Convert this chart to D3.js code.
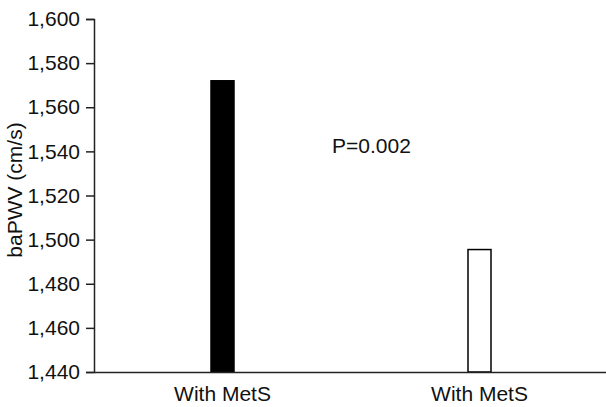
<!DOCTYPE html>
<html><head><meta charset="utf-8">
<script src="https://cdn.jsdelivr.net/npm/d3@7"></script>
<style>body{margin:0;background:#fff}text{font-family:"Liberation Sans",Arial,sans-serif;fill:#111}</style>
</head><body><svg id="c" width="606" height="407"></svg>
<script>
const categories = ["With MetS", "With MetS "];
const values = [1572, 1495.5];
const fills = ["#000", "#fff"];
const yTicks = [1440, 1460, 1480, 1500, 1520, 1540, 1560, 1580, 1600];
const yTitle = "baPWV (cm/s)";
const pText = "P=0.002";

const svg = d3.select("#c");
const m = {l: 94, t: 19, b: 35};
const W = 606, H = 407;
const x = d3.scaleBand().domain(categories).range([m.l, 608]).paddingInner(0).paddingOuter(0);
const y = d3.scaleLinear().domain([1440, 1600]).range([H - m.b, m.t]);
const fmt = d3.format(",");

// bars
const bw = 23;
svg.selectAll("rect.bar").data(values).join("rect")
  .attr("class", "bar")
  .attr("x", (d, i) => x(categories[i]) + x.bandwidth() / 2 - bw / 2)
  .attr("width", bw)
  .attr("y", d => y(d))
  .attr("height", d => y(1440) - y(d))
  .attr("fill", (d, i) => fills[i])
  .attr("stroke", "#000").attr("stroke-width", 1.5);

// y axis
const ya = svg.append("g").attr("transform", `translate(${m.l},0)`)
  .call(d3.axisLeft(y).tickValues(yTicks).tickFormat(fmt).tickSize(8).tickPadding(6));
ya.select(".domain").attr("stroke", "#222").attr("stroke-width", 1.5);
ya.selectAll(".tick line").attr("stroke", "#222").attr("stroke-width", 1.5);
ya.selectAll(".tick text").attr("font-size", 21).attr("font-family", "Liberation Sans, Arial, sans-serif").attr("fill", "#111");

// x axis
const xa = svg.append("g").attr("transform", `translate(0,${y(1440)})`)
  .call(d3.axisBottom(x).tickSize(0).tickPadding(14.5));
xa.select(".domain").attr("stroke", "#222").attr("stroke-width", 1.5);
xa.selectAll(".tick text").attr("font-size", 21).attr("font-family", "Liberation Sans, Arial, sans-serif").attr("fill", "#111")
  .text(d => d.trim());

// y title
svg.append("text").attr("transform", "translate(22,190) rotate(-90)")
  .attr("text-anchor", "middle").attr("font-size", 21).text(yTitle);

// P text
svg.append("text").attr("x", 332).attr("y", 152.5).attr("font-size", 21).text(pText);
</script></body></html>
